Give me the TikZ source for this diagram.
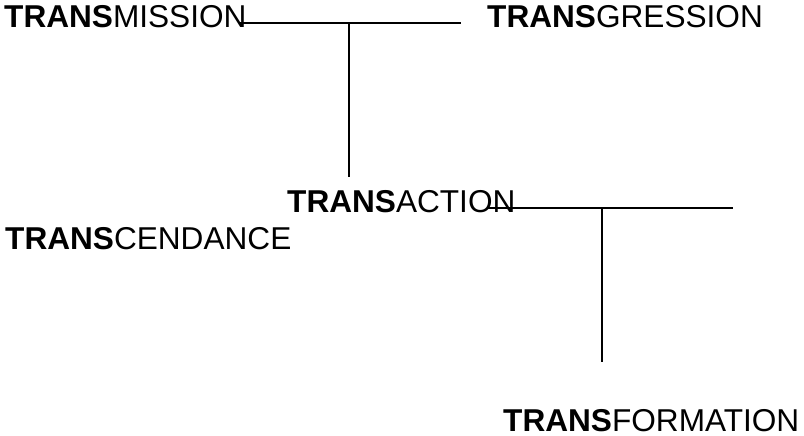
\documentclass[tikz,border=0pt]{standalone}
\usepackage{fontspec}
\setmainfont{Liberation Sans}
\tikzset{
	word/.style={anchor=base west, inner sep=0pt, font=\fontsize{31.6}{36}\selectfont},
	bar/.style={line width=1.3pt, color=black}
}
\begin{document}
\begin{tikzpicture}[x=1pt, y=-1pt]
			%%%%% START %%%%%
			\useasboundingbox (0, 0) rectangle (804, 436);
			
			\node[word] (mission) at (4, 28) {\textbf{TRANS}MISSION};
			\node[word] (gression) at (487, 28) {\textbf{TRANS}GRESSION};
			\node[word] (action) at (287, 212) {\textbf{TRANS}ACTION};
			\node[word] (cendance) at (5, 249) {\textbf{TRANS}CENDANCE};
			\node[word] (formation) at (503, 431.5) {\textbf{TRANS}FORMATION};
			
			\coordinate (mleft) at (240, 23);
			\coordinate (mright) at (461, 23);
			\coordinate (mjoin) at (349, 23);
			\coordinate (mfoot) at (349, 177);
			
			\coordinate (aleft) at (487, 208);
			\coordinate (aright) at (733, 208);
			\coordinate (ajoin) at (602, 208);
			\coordinate (afoot) at (602, 362);
			
			\draw[bar] (mleft) -- (mright);
			\draw[bar] (mjoin) -- (mfoot);
			
			\draw[bar] (aleft) -- (aright);
			\draw[bar] (ajoin) -- (afoot);
			
			%%%%% END %%%%%
		\end{tikzpicture}
\end{document}
